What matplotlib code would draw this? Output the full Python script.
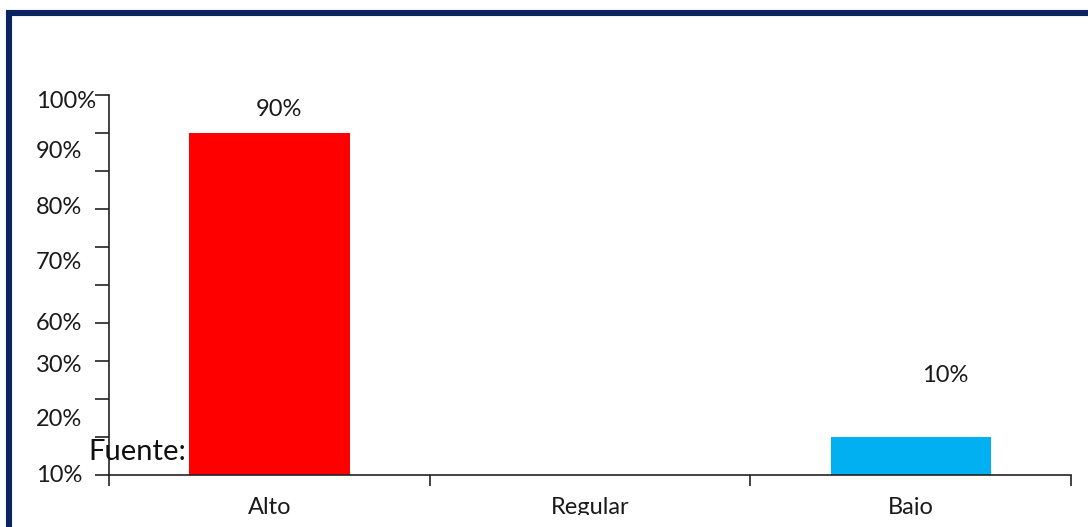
import matplotlib.pyplot as plt
from matplotlib.patches import Rectangle
from matplotlib.transforms import blended_transform_factory

plt.rcParams['font.family'] = ['Lato', 'DejaVu Sans']

# Nivel de resultados por categoría (en %)
categorias = ['Alto', 'Regular', 'Bajo']
valores = [90, 0, 10]
colores = ['#ff0000', '#ff0000', '#00b0f0']
etiquetas_valor = ['90%', '', '10%']
desfase_etiquetas = [(10, 24), (0, 0), (35, 62)]

# Etiquetas del eje Y tal como aparecen en el gráfico
etiquetas_y = ['100%', '90%', '80%', '70%', '60%', '30%', '20%', '10%']
posiciones_y = [98.4, 85, 70.3, 55.8, 40, 28.7, 14.5, 0]

W, H = 1088, 527
fig = plt.figure(figsize=(W / 100, H / 100), dpi=100)
ax = fig.add_axes([109 / W, (H - 475) / H, (1071 - 109) / W, (475 - 95) / H])

x = range(len(categorias))
ax.bar(x, valores, width=0.5, color=colores, zorder=2)

for i, (v, txt, (dx, dy)) in enumerate(zip(valores, etiquetas_valor, desfase_etiquetas)):
    if txt:
        ax.annotate(txt, xy=(i, v), xytext=(dx, dy), textcoords='offset pixels',
                    ha='center', va='center', fontsize=17, color='#1a1a1a')

ax.set_xlim(-0.5, 2.5)
ax.set_ylim(0, 100)

# marcas del eje Y cada 10, sin texto
ax.set_yticks(range(0, 101, 10))
ax.set_yticklabels([])
ax.tick_params(axis='y', direction='out', length=10, width=1.2, color='#222222')

# marcas del eje X en los límites de cada categoría
ax.set_xticks([-0.5, 0.5, 1.5, 2.5])
ax.set_xticklabels([])
ax.tick_params(axis='x', direction='out', length=8, width=1.2, color='#222222')

for spine in ['top', 'right']:
    ax.spines[spine].set_visible(False)
for spine in ['left', 'bottom']:
    ax.spines[spine].set_color('#222222')
    ax.spines[spine].set_linewidth(1.2)

# etiquetas del eje Y alineadas a la izquierda
trans_y = blended_transform_factory(fig.transFigure, ax.transData)
for txt, pos in zip(etiquetas_y, posiciones_y):
    ax.text(36 / W, pos, txt, transform=trans_y, fontsize=17,
            ha='left', va='center', color='#1a1a1a', clip_on=False)

# categorías bajo el eje
for i, cat in enumerate(categorias):
    ax.text(i, -10.3, cat, ha='center', va='baseline', fontsize=17, color='#1a1a1a',
            clip_on=False)

fig.text(88 / W, (H - 460) / H, 'Fuente:', fontsize=21, ha='left', va='baseline',
         color='#111111', zorder=5)

# recorte inferior del área del gráfico
fig.patches.append(Rectangle((12 / W, 0), 1, (H - 515) / H, transform=fig.transFigure,
                             facecolor='white', edgecolor='none', zorder=10))

# marco azul oscuro
fig.patches.append(Rectangle((9 / W, -0.1), 1.2, (H - 13) / H + 0.1, transform=fig.transFigure,
                             facecolor='none', edgecolor='#0b2461', linewidth=4.4, zorder=11))

fig.savefig('out.png', dpi=100)
